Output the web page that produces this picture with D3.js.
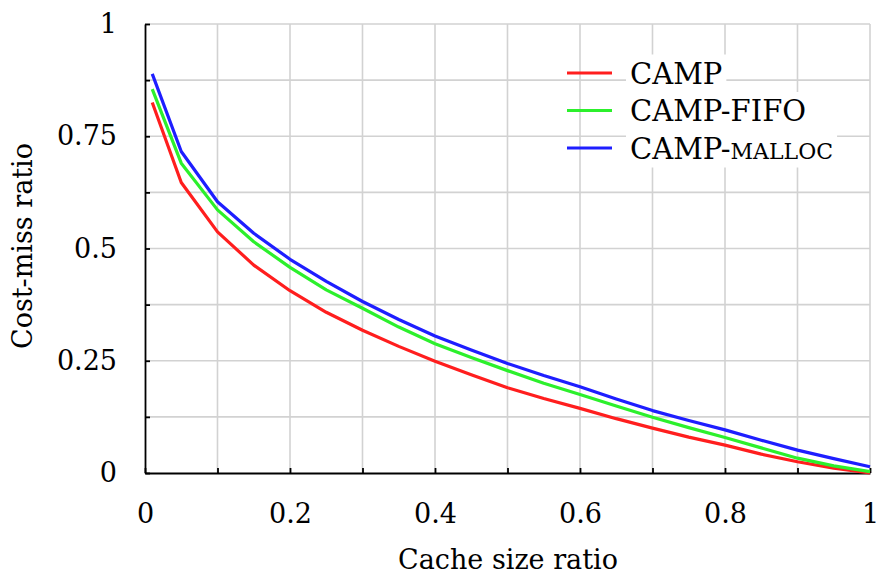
<!DOCTYPE html>
<html>
<head>
<meta charset="utf-8">
<script src="https://cdn.jsdelivr.net/npm/d3@7"></script>
<style>
  body { margin: 0; background: #fff; }
  svg { display: block; }
  text { font-family: "DejaVu Serif", serif; fill: #000; }
</style>
</head>
<body>
<div id="chart"></div>
<script>
// cache size ratio, sampled every 0.05 (first point at 0.01)
const cacheSize = [0.01, 0.05, 0.1, 0.15, 0.2, 0.25, 0.3, 0.35, 0.4, 0.45, 0.5,
                   0.55, 0.6, 0.65, 0.7, 0.75, 0.8, 0.85, 0.9, 0.95, 1.0];

const camp       = [0.825, 0.647, 0.537, 0.463, 0.406, 0.358, 0.318, 0.282, 0.249, 0.219, 0.190,
                    0.166, 0.144, 0.121, 0.100, 0.080, 0.062, 0.042, 0.025, 0.011, 0.0];
const campFifo   = [0.855, 0.690, 0.586, 0.515, 0.458, 0.408, 0.367, 0.325, 0.288, 0.257, 0.228,
                    0.200, 0.175, 0.149, 0.124, 0.101, 0.079, 0.056, 0.033, 0.016, 0.003];
const campMalloc = [0.889, 0.716, 0.604, 0.534, 0.476, 0.427, 0.382, 0.342, 0.305, 0.274, 0.244,
                    0.217, 0.192, 0.165, 0.139, 0.117, 0.096, 0.073, 0.051, 0.032, 0.014];

const seriesNames = ['CAMP', 'CAMP-FIFO', 'CAMP-malloc'];
const seriesColors = ['#ff1e1e', '#2cf02c', '#1e1eff'];

const xTicks = [0, 0.1, 0.2, 0.3, 0.4, 0.5, 0.6, 0.7, 0.8, 0.9, 1];
const xTickLabels = ['0', '', '0.2', '', '0.4', '', '0.6', '', '0.8', '', '1'];
const yTicks = [0, 0.125, 0.25, 0.375, 0.5, 0.625, 0.75, 0.875, 1];
const yTickLabels = ['0', '', '0.25', '', '0.5', '', '0.75', '', '1'];

const w = 881, h = 575;
const plot = { left: 145, right: 870, top: 24, bottom: 473 };

const svg = d3.select('#chart')
    .append('svg')
    .attr('width', w)
    .attr('height', h);

const x = d3.scaleLinear().domain([0, 1]).range([plot.left, plot.right]);
const y = d3.scaleLinear().domain([0, 1]).range([plot.bottom, plot.top]);

// grid
const grid = svg.append('g').attr('stroke', '#d2d2d2').attr('stroke-width', 1.6);
grid.selectAll('line.vx')
    .data(xTicks.slice(1))
    .enter()
    .append('line')
        .attr('x1', d => x(d)).attr('x2', d => x(d))
        .attr('y1', plot.top).attr('y2', plot.bottom);
grid.selectAll('line.hy')
    .data(yTicks.slice(1))
    .enter()
    .append('line')
        .attr('x1', plot.left).attr('x2', plot.right)
        .attr('y1', d => y(d)).attr('y2', d => y(d));

// axes
const xAxis = d3.axisBottom(x)
    .tickValues(xTicks)
    .tickFormat((d, i) => xTickLabels[i])
    .tickSizeInner(-5)
    .tickSizeOuter(0)
    .tickPadding(31);

const yAxis = d3.axisLeft(y)
    .tickValues(yTicks)
    .tickFormat((d, i) => yTickLabels[i])
    .tickSizeInner(-5)
    .tickSizeOuter(0)
    .tickPadding(28);

const styleAxis = g => {
    g.select('.domain').attr('stroke', '#000').attr('stroke-width', 1.8);
    g.selectAll('.tick line').attr('stroke', '#000').attr('stroke-width', 1.8);
    g.selectAll('.tick text')
        .style('font-family', '"DejaVu Serif", serif')
        .style('font-size', '27px')
        .attr('fill', '#000');
};

svg.append('g')
    .attr('transform', `translate(0, ${plot.bottom})`)
    .call(xAxis)
    .call(styleAxis);

svg.append('g')
    .attr('transform', `translate(${plot.left}, 0)`)
    .call(yAxis)
    .call(styleAxis);

// lines
const series = [camp, campFifo, campMalloc];
const line = d3.line()
    .x((d, i) => x(cacheSize[i]))
    .y(d => y(d));

svg.selectAll('path.series')
    .data(series)
    .enter()
    .append('path')
        .attr('class', 'series')
        .attr('d', d => line(d))
        .attr('fill', 'none')
        .attr('stroke', (d, i) => seriesColors[i])
        .attr('stroke-width', 3.2)
        .attr('stroke-linejoin', 'round');

// legend
const legend = svg.append('g').attr('transform', 'translate(567, 73)');
const entries = legend.selectAll('g')
    .data(seriesNames)
    .enter()
    .append('g')
        .attr('transform', (d, i) => `translate(0, ${i * 37.5})`);

entries.append('line')
    .attr('x1', 0).attr('x2', 45)
    .attr('y1', 0).attr('y2', 0)
    .attr('stroke', (d, i) => seriesColors[i])
    .attr('stroke-width', 3.2);

const labels = entries.append('text')
    .attr('x', 63)
    .attr('y', 10.5)
    .style('font-size', '29px')
    .each(function (d) {
        const t = d3.select(this);
        if (d === 'CAMP-malloc') {
            t.append('tspan').text('CAMP-');
            t.append('tspan').style('font-variant', 'small-caps').style('font-size', '31px').text('malloc');
        } else {
            t.text(d);
        }
    });

labels.each(function () {
    const b = this.getBBox();
    d3.select(this.parentNode).insert('rect', 'text')
        .attr('x', b.x - 4).attr('y', b.y - 2)
        .attr('width', b.width + 8).attr('height', b.height + 4)
        .attr('fill', '#fff');
});

// axis titles
svg.append('text')
    .attr('x', 508)
    .attr('y', 569)
    .attr('text-anchor', 'middle')
    .style('font-size', '27px')
    .text('Cache size ratio');

svg.append('text')
    .attr('transform', `translate(32, 246) rotate(-90)`)
    .attr('text-anchor', 'middle')
    .style('font-size', '27px')
    .text('Cost-miss ratio');
</script>
</body>
</html>
